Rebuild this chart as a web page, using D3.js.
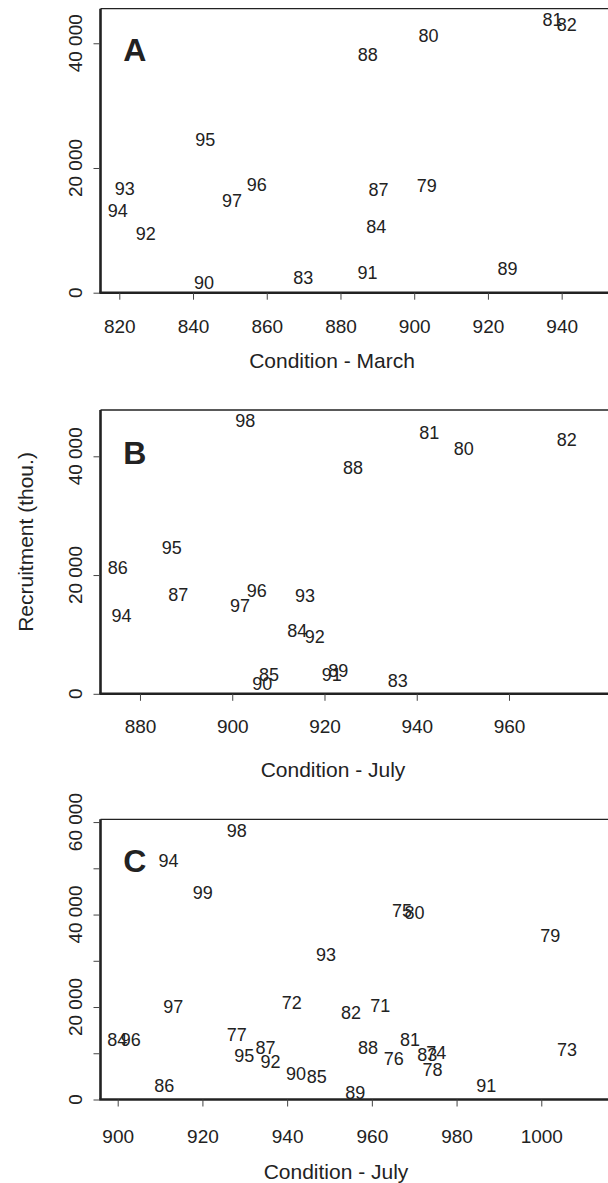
<!DOCTYPE html>
<html><head><meta charset="utf-8">
<script src="https://cdn.jsdelivr.net/npm/d3@7"></script>
<style>
body{margin:0;background:#fff}
svg{display:block}
text{font-family:"Liberation Sans",Arial,Helvetica,sans-serif;fill:#222}
</style>
</head><body>
<svg id="c" width="608" height="1183"></svg>
<script>
// ---- Panel A: Condition - March vs Recruitment
const yearsA = [79,80,81,82,83,84,87,88,89,90,91,92,93,94,95,96,97];
const condA  = [903.4,903.9,937.5,941.4,869.9,889.7,890.3,887.4,925.3,843.0,887.3,827.2,821.5,819.6,843.3,857.3,850.6];
const recA   = [17150,41170,43850,42940,2390,10540,16550,38125,3830,1680,3240,9460,16680,13140,24490,17320,14820];

// ---- Panel B: Condition - July vs Recruitment
const yearsB = [80,81,82,83,84,85,86,87,88,89,90,91,92,93,94,95,96,97,98];
const condB  = [950.2,942.7,972.5,935.9,914.1,908.0,875.2,888.3,926.2,923.0,906.5,921.6,917.9,915.8,876.0,886.9,905.3,901.7,902.8];
const recB   = [41370,44030,42820,2290,10620,3300,21280,16650,38180,3980,1740,3170,9600,16620,13110,24650,17410,14790,46000];

// ---- Panel C: Condition - July vs Recruitment
const yearsC = [71,72,73,74,75,76,77,78,79,80,81,82,83,84,85,86,87,88,89,90,91,92,93,94,95,96,97,98,99];
const condC  = [962.0,941.1,1006.1,975.2,967.1,965.2,928.1,974.3,1002.1,970.1,969.0,955.1,973.1,899.9,947.0,911.0,934.9,959.1,956.1,942.1,987.0,936.1,949.2,912.0,929.9,903.1,913.1,928.1,920.1];
const recC   = [20230,20950,10860,10130,40800,8910,14070,6450,35380,40400,13030,18780,9630,12920,4910,2920,11250,11250,1470,5560,3090,8180,31270,51790,9590,12920,20170,58280,44750];

// ---- Ticks and labels
const xTicksA = [820,840,860,880,900,920,940];
const xTicksB = [880,900,920,940,960];
const xTicksC = [900,920,940,960,980,1000];
const yTicksAB = [0,20000,40000];
const yTicksC = [0,20000,40000,60000];
const yMinorC = [10000,30000,50000];
const panelLetters = ["A","B","C"];
const xTitles = ["Condition - March","Condition - July","Condition - July"];
const yTitle = "Recruitment (thou.)";

const fmt = d3.formatLocale({decimal:".", thousands:" ", grouping:[3], currency:["",""]}).format(",d");

const svg = d3.select("#c");
const L = 100.5, R = 600, EDGE = 610;
const ink = "#222";

const panels = [
  {years:yearsA, x:condA, y:recA, xDom:[814.9,950.4], yDom:[0,45545], top:8.7, bottom:292.7,
   xTicks:xTicksA, yTicks:yTicksAB, yMinor:[], tickBase:333, titleBase:368, titleX:332, letterY:61},
  {years:yearsB, x:condB, y:recB, xDom:[871.44,979.73], yDom:[0,47800], top:410, bottom:693.8,
   xTicks:xTicksB, yTicks:yTicksAB, yMinor:[], tickBase:733, titleBase:777, titleX:333, letterY:464},
  {years:yearsC, x:condC, y:recC, xDom:[895.94,1013.86], yDom:[0,60600], top:819.3, bottom:1099.5,
   xTicks:xTicksC, yTicks:yTicksC, yMinor:yMinorC, tickBase:1143, titleBase:1179, titleX:336, letterY:872}
];

panels.forEach((p, i) => {
  const xs = d3.scaleLinear().domain(p.xDom).range([L, R]);
  const ys = d3.scaleLinear().domain(p.yDom).range([p.bottom, p.top]);
  const g = svg.append("g");

  // frame: thin top, thick left + bottom
  g.append("line").attr("x1", L).attr("x2", EDGE).attr("y1", p.top).attr("y2", p.top)
    .attr("stroke", ink).attr("stroke-width", 1.3);
  g.append("line").attr("x1", L).attr("x2", L).attr("y1", p.top).attr("y2", p.bottom)
    .attr("stroke", ink).attr("stroke-width", 2.6);
  g.append("line").attr("x1", L - 1.3).attr("x2", EDGE).attr("y1", p.bottom).attr("y2", p.bottom)
    .attr("stroke", ink).attr("stroke-width", 2.6);

  // x axis ticks + labels
  const xa = d3.axisBottom(xs).tickValues(p.xTicks).tickSize(7).tickPadding(0).tickFormat(d3.format("d"));
  const xg = g.append("g").attr("transform", `translate(0,${p.bottom})`).call(xa);
  xg.select(".domain").remove();
  xg.selectAll(".tick line").attr("stroke", "#444").attr("stroke-width", 1);
  xg.selectAll(".tick text").attr("y", p.tickBase - p.bottom).attr("dy", 0)
    .style("font-size", "19px").attr("fill", ink);

  // y axis ticks + rotated labels
  const ya = d3.axisLeft(ys).tickValues(p.yTicks.concat(p.yMinor)).tickSize(6).tickFormat("");
  const yg = g.append("g").attr("transform", `translate(${L - 1},0)`).call(ya);
  yg.select(".domain").remove();
  yg.selectAll(".tick line").attr("stroke", "#444").attr("stroke-width", 1);
  g.selectAll(".ylab").data(p.yTicks).enter().append("text")
    .attr("transform", d => `translate(82,${ys(d)}) rotate(-90)`)
    .attr("text-anchor", "middle").style("font-size", "19px").text(d => fmt(d));

  // point labels (years)
  g.selectAll(".pt").data(p.years).enter().append("text")
    .attr("x", (d, k) => xs(p.x[k]))
    .attr("y", (d, k) => ys(p.y[k]))
    .attr("dy", "0.36em")
    .attr("text-anchor", "middle").style("font-size", "18px")
    .text(d => d);

  // panel letter
  g.append("text").attr("x", 134.7).attr("y", p.letterY).attr("text-anchor", "middle")
    .style("font-size", "32px").style("font-weight", "bold").text(panelLetters[i]);

  // x title
  g.append("text").attr("x", p.titleX).attr("y", p.titleBase).attr("text-anchor", "middle")
    .style("font-size", "21px").text(xTitles[i]);
});

// y title (middle panel only)
svg.append("text").attr("transform", "translate(33,542) rotate(-90)")
  .attr("text-anchor", "middle").style("font-size", "21px").text(yTitle);
</script>
</body></html>
